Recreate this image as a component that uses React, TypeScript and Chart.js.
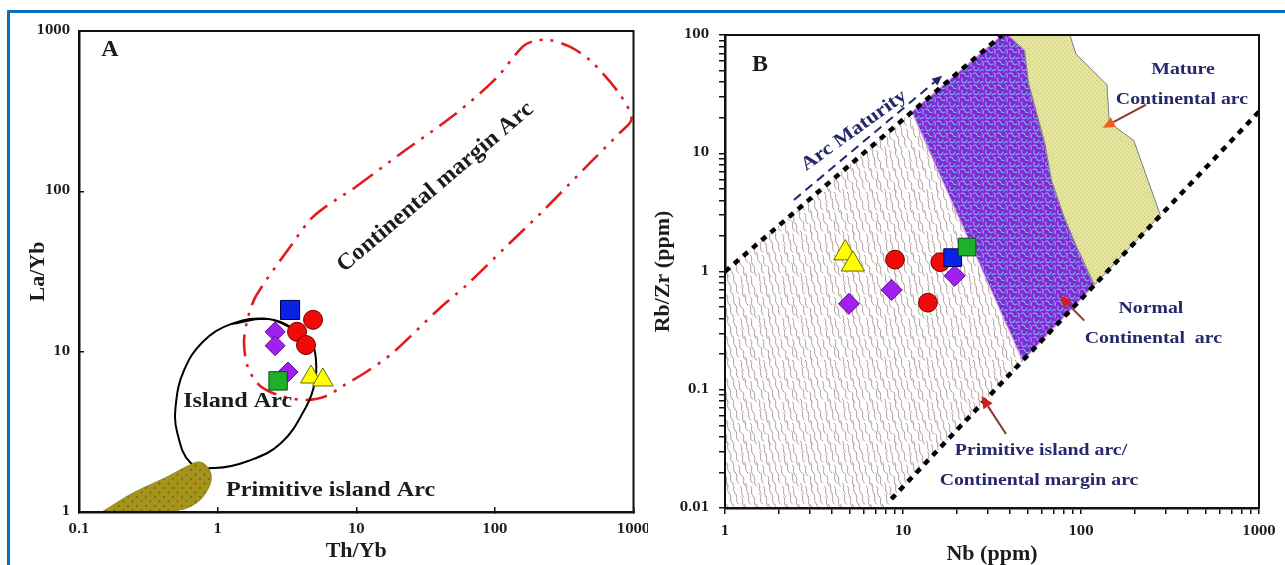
import React, { useEffect, useRef } from "react";
import { Chart, registerables } from "chart.js";
Chart.register(...registerables);

type P = { x: number; y: number };

// ---------------- Panel A : La/Yb vs Th/Yb ----------------
const A_X_TICKS = [0.1, 1, 10, 100, 1000];
const A_Y_TICKS = [1, 10, 100, 1000];

const A_BLUE_SQUARE: P[] = [{ x: 3.33, y: 18.2 }];
const A_RED_CIRCLE: P[] = [{ x: 4.88, y: 15.8 }, { x: 3.74, y: 13.3 }, { x: 4.34, y: 11.0 }];
const A_PURPLE_DIAMOND: P[] = [{ x: 2.6, y: 13.3 }, { x: 2.6, y: 10.9 }, { x: 3.22, y: 7.47 }];
const A_GREEN_SQUARE: P[] = [{ x: 2.73, y: 6.57 }];
const A_YELLOW_TRIANGLE: P[] = [{ x: 4.71, y: 6.95 }, { x: 5.74, y: 6.66 }];

// Island arc field (closed, first points repeated to close smoothly)
const A_ISLAND_ARC: P[] = [
  { x: 1.26, y: 14.9 }, { x: 2.33, y: 16.0 }, { x: 3.77, y: 13.4 }, { x: 4.79, y: 11.2 },
  { x: 5.12, y: 8.88 }, { x: 5.04, y: 6.47 }, { x: 4.34, y: 4.52 }, { x: 2.87, y: 2.69 },
  { x: 1.66, y: 2.08 }, { x: 0.96, y: 1.88 }, { x: 0.64, y: 2.02 }, { x: 0.51, y: 3.16 },
  { x: 0.5, y: 4.72 }, { x: 0.57, y: 7.58 }, { x: 0.78, y: 11.5 }, { x: 1.26, y: 14.9 },
  { x: 2.33, y: 16.0 }, { x: 3.77, y: 13.4 },
];

// Continental margin arc field
const A_CONT_MARGIN_ARC: P[] = [
  { x: 9.84, y: 106 }, { x: 22.3, y: 179 }, { x: 51, y: 300 }, { x: 101, y: 503 },
  { x: 158, y: 796 }, { x: 188, y: 862 }, { x: 245, y: 880 }, { x: 347, y: 798 },
  { x: 491, y: 651 }, { x: 793, y: 405 }, { x: 968, y: 283 }, { x: 793, y: 231 },
  { x: 491, y: 152 }, { x: 215, y: 73.3 }, { x: 124, y: 46.3 }, { x: 62.7, y: 26.1 },
  { x: 38.8, y: 18.2 }, { x: 18.3, y: 9.82 }, { x: 12.1, y: 7.58 }, { x: 8.0, y: 6.11 },
  { x: 6.09, y: 5.29 }, { x: 4.34, y: 5.0 }, { x: 2.87, y: 5.29 }, { x: 2.03, y: 6.11 },
  { x: 1.66, y: 7.91 }, { x: 1.55, y: 11.5 }, { x: 1.66, y: 16.5 }, { x: 1.9, y: 22.4 },
  { x: 3.27, y: 44.0 }, { x: 4.95, y: 70.2 }, { x: 9.84, y: 106 },
];

// Primitive island arc field
const A_PRIMITIVE_ARC: P[] = [
  { x: 0.149, y: 1.01 }, { x: 0.244, y: 1.31 }, { x: 0.428, y: 1.65 }, { x: 0.627, y: 1.96 },
  { x: 0.739, y: 2.05 }, { x: 0.843, y: 1.91 }, { x: 0.9, y: 1.65 }, { x: 0.843, y: 1.37 },
  { x: 0.703, y: 1.14 }, { x: 0.531, y: 1.03 }, { x: 0.324, y: 1.0 }, { x: 0.188, y: 1.0 },
  { x: 0.149, y: 1.01 },
];

const A_LABELS = ["A", "Continental margin Arc", "Island Arc", "Primitive island Arc"];
const A_LABEL_AT: P[] = [{ x: 0.167, y: 762 }, { x: 37.2, y: 106 }, { x: 1.395, y: 4.86 }, { x: 6.53, y: 1.356 }];

// ---------------- Panel B : Rb/Zr vs Nb ----------------
const B_X_TICKS = [1, 2, 3, 4, 5, 6, 7, 8, 9, 10, 20, 30, 40, 50, 60, 70, 80, 90, 100, 200, 300, 400, 500, 600, 700, 800, 900, 1000];
const B_Y_TICKS = [0.01, 0.02, 0.03, 0.04, 0.05, 0.06, 0.07, 0.08, 0.09, 0.1, 0.2, 0.3, 0.4, 0.5, 0.6, 0.7, 0.8, 0.9, 1, 2, 3, 4, 5, 6, 7, 8, 9, 10, 20, 30, 40, 50, 60, 70, 80, 90, 100];
const B_LABELED = [0.01, 0.1, 1, 10, 100, 1000];

const B_YELLOW_TRIANGLE: P[] = [{ x: 4.74, y: 1.43 }, { x: 5.23, y: 1.15 }];
const B_RED_CIRCLE: P[] = [{ x: 9.02, y: 1.26 }, { x: 16.2, y: 1.2 }, { x: 13.8, y: 0.545 }];
const B_BLUE_SQUARE: P[] = [{ x: 19.0, y: 1.31 }];
const B_GREEN_SQUARE: P[] = [{ x: 22.9, y: 1.61 }];
const B_PURPLE_DIAMOND: P[] = [{ x: 4.97, y: 0.533 }, { x: 8.64, y: 0.698 }, { x: 19.5, y: 0.92 }];

const B_UPPER_LIMIT: P[] = [{ x: 1, y: 1 }, { x: 36, y: 100 }];
const B_LOWER_LIMIT: P[] = [{ x: 8.6, y: 0.0119 }, { x: 1000, y: 22.5 }];
const B_PRIMITIVE_FIELD: P[] = [
  { x: 1, y: 0.01 }, { x: 1, y: 1 }, { x: 11.2, y: 22.4 }, { x: 47, y: 0.175 },
  { x: 8.6, y: 0.0119 }, { x: 8.4, y: 0.01 }, { x: 1, y: 0.01 },
];
const B_NORMAL_FIELD: P[] = [
  { x: 11.2, y: 22.4 }, { x: 36, y: 100 }, { x: 38.9, y: 100 }, { x: 48.2, y: 74 },
  { x: 50.8, y: 39 }, { x: 62.8, y: 12 }, { x: 68.2, y: 5.94 }, { x: 80, y: 2.94 },
  { x: 93.7, y: 1.67 }, { x: 119, y: 0.77 }, { x: 47, y: 0.175 }, { x: 11.2, y: 22.4 },
];
const B_MATURE_FIELD: P[] = [
  { x: 38.9, y: 100 }, { x: 86.6, y: 100 }, { x: 93.7, y: 69 }, { x: 140, y: 38 },
  { x: 144, y: 18.2 }, { x: 198, y: 12.8 }, { x: 279, y: 3.0 }, { x: 119, y: 0.77 },
  { x: 93.7, y: 1.67 }, { x: 80, y: 2.94 }, { x: 68.2, y: 5.94 }, { x: 62.8, y: 12 },
  { x: 50.8, y: 39 }, { x: 48.2, y: 74 }, { x: 38.9, y: 100 },
];

const B_LABELS = ["B", "Arc Maturity", "Mature", "Continental arc", "Normal", "Continental  arc", "Primitive island arc/", "Continental margin arc"];
const B_LABEL_AT: P[] = [
  { x: 1.573, y: 55.7 }, { x: 5.3, y: 15.5 }, { x: 374, y: 50.6 }, { x: 369, y: 28.2 },
  { x: 247, y: 0.482 }, { x: 255, y: 0.27 }, { x: 59.6, y: 0.0306 }, { x: 58.1, y: 0.0169 },
];
const B_ARROW_FROM: P[] = [{ x: 2.44, y: 4.03 }, { x: 232, y: 25.8 }, { x: 104.3, y: 0.384 }, { x: 37.9, y: 0.0423 }];
const B_ARROW_TO: P[] = [{ x: 16.6, y: 45.3 }, { x: 132.6, y: 16.4 }, { x: 75.8, y: 0.627 }, { x: 27.6, y: 0.088 }];

// ---------------- styling helpers ----------------
const SERIF = '"Liberation Serif", "Times New Roman", serif';
const TICK_FONT = '"DejaVu Serif", serif';
const NAVY = "#27276b";
const TEXT = "#1c1c1c";

type NoteStyle = { size: number; color: string; rot?: number; sx?: number };
type ArrowStyle = { color: string; head: string; width: number; dash?: number[]; hl: number; hw: number };

function tile(w: number, h: number, paint: (g: CanvasRenderingContext2D) => void) {
  const c = document.createElement("canvas");
  c.width = w;
  c.height = h;
  paint(c.getContext("2d") as CanvasRenderingContext2D);
  return c;
}

function overlayPlugin(labels: string[], at: P[], styles: NoteStyle[], from: P[], to: P[], arrowStyles: ArrowStyle[]) {
  return {
    id: "overlay",
    afterDatasetsDraw(chart: any) {
      const { ctx, scales } = chart;
      const sx = scales.x, sy = scales.y;
      for (let i = 0; i < from.length; i++) {
        const st = arrowStyles[i];
        const x1 = sx.getPixelForValue(from[i].x), y1 = sy.getPixelForValue(from[i].y);
        const x2 = sx.getPixelForValue(to[i].x), y2 = sy.getPixelForValue(to[i].y);
        const a = Math.atan2(y2 - y1, x2 - x1);
        const bx = x2 - st.hl * Math.cos(a), by = y2 - st.hl * Math.sin(a);
        ctx.save();
        ctx.strokeStyle = st.color;
        ctx.lineWidth = st.width;
        ctx.setLineDash(st.dash || []);
        ctx.beginPath();
        ctx.moveTo(x1, y1);
        ctx.lineTo(bx, by);
        ctx.stroke();
        ctx.setLineDash([]);
        ctx.fillStyle = st.head;
        ctx.beginPath();
        ctx.moveTo(x2, y2);
        ctx.lineTo(bx + (st.hw / 2) * Math.sin(a), by - (st.hw / 2) * Math.cos(a));
        ctx.lineTo(bx - (st.hw / 2) * Math.sin(a), by + (st.hw / 2) * Math.cos(a));
        ctx.closePath();
        ctx.fill();
        ctx.restore();
      }
      for (let i = 0; i < labels.length; i++) {
        const st = styles[i];
        const px = sx.getPixelForValue(at[i].x), py = sy.getPixelForValue(at[i].y);
        ctx.save();
        ctx.translate(px, py);
        ctx.rotate(((st.rot || 0) * Math.PI) / 180);
        ctx.scale(st.sx || 1, 1);
        ctx.font = `bold ${st.size}px ${SERIF}`;
        ctx.fillStyle = st.color;
        ctx.textAlign = "center";
        ctx.textBaseline = "middle";
        ctx.fillText(labels[i], 0, 0);
        ctx.restore();
      }
    },
    afterDraw(chart: any) {
      const { ctx, chartArea: c } = chart;
      ctx.save();
      ctx.strokeStyle = "#111";
      ctx.lineWidth = 2;
      ctx.strokeRect(c.left, c.top, c.right - c.left, c.bottom - c.top);
      ctx.restore();
    },
  };
}

function marker(data: P[], style: string, r: number, fill: string, border: string, order: number) {
  return {
    type: "line",
    data,
    showLine: false,
    pointStyle: style,
    pointRadius: r,
    pointBackgroundColor: fill,
    pointBorderColor: border,
    pointBorderWidth: 1,
    order,
  };
}

function logAxis(opts: any) {
  return {
    type: "logarithmic",
    min: opts.min,
    max: opts.max,
    position: opts.position,
    afterBuildTicks: (s: any) => {
      s.ticks = opts.ticks.map((v: number) => ({ value: v }));
    },
    afterFit: (s: any) => {
      if (opts.position === "bottom") s.height = opts.size;
      else s.width = opts.size;
      s.paddingLeft = 0;
      s.paddingRight = 0;
      s.paddingTop = 0;
      s.paddingBottom = 0;
    },
    ticks: {
      autoSkip: false,
      maxRotation: 0,
      padding: opts.tickPad,
      color: TEXT,
      font: { family: TICK_FONT, size: 12, weight: "bold" },
      callback: (v: number) => (B_LABELED.some((l) => Math.abs(l - v) / l < 1e-6) ? String(v) : ""),
    },
    grid: { drawOnChartArea: false, drawTicks: true, tickLength: opts.tickLength, color: "#111", lineWidth: 1.5 },
    border: { color: "#111", width: 2.5 },
    title: {
      display: true,
      text: opts.title,
      color: TEXT,
      font: { family: SERIF, size: 22, weight: "bold", lineHeight: 1 },
      padding: opts.titlePad,
    },
  };
}

export default function App() {
  const refA = useRef<HTMLCanvasElement>(null);
  const refB = useRef<HTMLCanvasElement>(null);

  useEffect(() => {
    const ctxA = (refA.current as HTMLCanvasElement).getContext("2d") as CanvasRenderingContext2D;
    const ctxB = (refB.current as HTMLCanvasElement).getContext("2d") as CanvasRenderingContext2D;

    const olive = ctxA.createPattern(
      tile(9, 9, (g) => {
        g.fillStyle = "rgb(166,148,26)";
        g.fillRect(0, 0, 9, 9);
        g.fillStyle = "rgb(95,100,35)";
        g.beginPath(); g.arc(2, 2, 0.9, 0, Math.PI * 2); g.fill();
        g.beginPath(); g.arc(6.5, 6.5, 0.9, 0, Math.PI * 2); g.fill();
      }),
      "repeat"
    );
    const wavy = ctxB.createPattern(
      tile(42, 42, (g) => {
        g.fillStyle = "#fff";
        g.fillRect(0, 0, 42, 42);
        g.strokeStyle = "rgba(168,145,145,0.9)";
        g.lineWidth = 1;
        for (let r = 0; r < 4; r++)
          for (let c = 0; c < 7; c++) {
            const sx = c * 6 + (r % 2) * 3 + ((r * c) % 3);
            const sy = r * 10.5 + (c % 2) * 3;
            for (const ox of [-42, 0, 42])
              for (const oy of [-42, 0, 42]) {
                g.beginPath();
                g.moveTo(sx + ox, sy + oy);
                g.bezierCurveTo(sx + ox + 4, sy + oy + 3, sx + ox - 1, sy + oy + 7, sx + ox + 4, sy + oy + 11);
                g.stroke();
              }
          }
      }),
      "repeat"
    );
    const purple = ctxB.createPattern(
      tile(12, 12, (g) => {
        g.fillStyle = "rgb(132,40,212)";
        g.fillRect(0, 0, 12, 12);
        g.strokeStyle = "rgb(125,178,240)";
        g.lineWidth = 1.1;
        g.lineCap = "round";
        g.beginPath(); g.moveTo(1, 1.5); g.quadraticCurveTo(4, 0, 5, 3); g.quadraticCurveTo(6, 5.5, 9, 4); g.stroke();
        g.beginPath(); g.moveTo(10, 1); g.quadraticCurveTo(12, 3, 11, 6); g.stroke();
        g.beginPath(); g.moveTo(2, 6); g.quadraticCurveTo(1, 9, 3, 10.5); g.quadraticCurveTo(6, 11, 7, 8); g.stroke();
        g.beginPath(); g.moveTo(8, 11); g.quadraticCurveTo(10, 9, 12, 10); g.stroke();
      }),
      "repeat"
    );
    const khaki = ctxB.createPattern(
      tile(4, 4, (g) => {
        g.fillStyle = "rgb(229,229,160)";
        g.fillRect(0, 0, 4, 4);
        g.fillStyle = "rgb(196,196,122)";
        g.fillRect(0, 0, 1, 1);
        g.fillRect(2, 2, 1, 1);
      }),
      "repeat"
    );

    const chartA = new Chart(ctxA, {
      type: "line",
      data: {
        datasets: [
          marker(A_YELLOW_TRIANGLE, "triangle", 12, "#ffff00", "#6b6b00", 0),
          marker(A_GREEN_SQUARE, "rect", 13, "#1fb02a", "#0c4a10", 1),
          marker(A_PURPLE_DIAMOND, "rectRot", 10, "#a020f0", "#5a0a8a", 2),
          marker(A_RED_CIRCLE, "circle", 9.5, "#f00a0a", "#6a0000", 3),
          marker(A_BLUE_SQUARE, "rect", 13.5, "#0a22e6", "#00004a", 4),
          {
            type: "line", data: A_PRIMITIVE_ARC, showLine: true, pointRadius: 0, tension: 0.4,
            borderColor: "rgb(130,145,40)", borderWidth: 1, backgroundColor: olive, fill: "shape", order: 6,
          },
          {
            type: "line", data: A_ISLAND_ARC, showLine: true, pointRadius: 0, tension: 0.4,
            borderColor: "#000", borderWidth: 2, fill: false, order: 7,
          },
          {
            type: "line", data: A_CONT_MARGIN_ARC, showLine: true, pointRadius: 0, tension: 0.3,
            borderColor: "rgb(226,28,28)", borderWidth: 2.6, borderDash: [22, 8, 3, 8, 3, 8], fill: false, order: 8,
          },
        ],
      } as any,
      options: {
        responsive: false,
        animation: false,
        devicePixelRatio: 1,
        events: [],
        layout: { padding: { left: 0, top: 31, right: 12, bottom: 0 } },
        plugins: { legend: { display: false }, tooltip: { enabled: false } },
        scales: {
          x: logAxis({ min: 0.1, max: 1000, position: "bottom", ticks: A_X_TICKS, size: 53, tickPad: 16, tickLength: -5, title: "Th/Yb", titlePad: { top: 0, bottom: 3 } }),
          y: logAxis({ min: 1, max: 1000, position: "left", ticks: A_Y_TICKS, size: 79, tickPad: 14, tickLength: -5, title: "La/Yb", titlePad: { top: 27, bottom: 0 } }),
        },
      } as any,
      plugins: [
        overlayPlugin(
          A_LABELS,
          A_LABEL_AT,
          [
            { size: 24, color: TEXT },
            { size: 23, color: TEXT, rot: -40.4, sx: 1.06 },
            { size: 21, color: TEXT, sx: 1.15 },
            { size: 22, color: TEXT, sx: 1.1 },
          ],
          [],
          [],
          []
        ),
      ],
    });

    const brown = { color: "rgb(140,55,45)", width: 2, hl: 12, hw: 11 };
    const chartB = new Chart(ctxB, {
      type: "line",
      data: {
        datasets: [
          marker(B_YELLOW_TRIANGLE, "triangle", 13.5, "#ffff00", "#6b6b00", 0),
          marker(B_GREEN_SQUARE, "rect", 12.5, "#1fb02a", "#0c4a10", 1),
          marker(B_BLUE_SQUARE, "rect", 12.5, "#0a22e6", "#00004a", 2),
          marker(B_PURPLE_DIAMOND, "rectRot", 10.5, "#a020f0", "#5a0a8a", 3),
          marker(B_RED_CIRCLE, "circle", 9.4, "#f00a0a", "#6a0000", 4),
          {
            type: "line", data: B_UPPER_LIMIT, showLine: true, pointRadius: 0,
            borderColor: "#000", borderWidth: 4.5, borderDash: [6, 6], fill: false, order: 5,
          },
          {
            type: "line", data: B_LOWER_LIMIT, showLine: true, pointRadius: 0,
            borderColor: "#000", borderWidth: 4.5, borderDash: [6, 6], fill: false, order: 5,
          },
          {
            type: "line", data: B_MATURE_FIELD, showLine: true, pointRadius: 0,
            borderColor: "rgb(120,128,128)", borderWidth: 1, backgroundColor: khaki, fill: "shape", order: 7,
          },
          {
            type: "line", data: B_NORMAL_FIELD, showLine: true, pointRadius: 0,
            borderColor: "rgba(225,160,225,0.9)", borderWidth: 1.2, backgroundColor: purple, fill: "shape", order: 8,
          },
          {
            type: "line", data: B_PRIMITIVE_FIELD, showLine: true, pointRadius: 0,
            borderWidth: 0, borderColor: "rgba(0,0,0,0)", backgroundColor: wavy, fill: "shape", order: 9,
          },
        ],
      } as any,
      options: {
        responsive: false,
        animation: false,
        devicePixelRatio: 1,
        events: [],
        layout: { padding: { left: 0, top: 35, right: 26, bottom: 0 } },
        plugins: { legend: { display: false }, tooltip: { enabled: false } },
        scales: {
          x: logAxis({ min: 1, max: 1000, position: "bottom", ticks: B_X_TICKS, size: 57, tickPad: 11, tickLength: 6, title: "Nb (ppm)", titlePad: { top: 0, bottom: 0 } }),
          y: logAxis({ min: 0.01, max: 100, position: "left", ticks: B_Y_TICKS, size: 77, tickPad: 10, tickLength: 6, title: "Rb/Zr (ppm)", titlePad: { top: 4, bottom: 0 } }),
        },
      } as any,
      plugins: [
        overlayPlugin(
          B_LABELS,
          B_LABEL_AT,
          [
            { size: 24, color: TEXT },
            { size: 19, color: NAVY, rot: -35.7, sx: 1.15 },
            { size: 16.5, color: NAVY, sx: 1.2 },
            { size: 16.5, color: NAVY, sx: 1.2 },
            { size: 16.5, color: NAVY, sx: 1.2 },
            { size: 16.5, color: NAVY, sx: 1.2 },
            { size: 16.5, color: NAVY, sx: 1.2 },
            { size: 16.5, color: NAVY, sx: 1.2 },
          ],
          B_ARROW_FROM,
          B_ARROW_TO,
          [
            { color: "rgb(30,40,110)", head: "rgb(30,40,110)", width: 2, dash: [9, 6], hl: 10, hw: 9 },
            { ...brown, head: "rgb(235,95,35)" },
            { ...brown, head: "rgb(210,30,30)" },
            { ...brown, head: "rgb(210,30,30)" },
          ]
        ),
      ],
    });

    return () => {
      chartA.destroy();
      chartB.destroy();
    };
  }, []);

  return (
    <div style={{ position: "absolute", left: 0, top: 0, width: 1285, height: 565, background: "#fff", overflow: "hidden" }}>
      <canvas ref={refA} width={648} height={565} style={{ position: "absolute", left: 0, top: 0, width: 648, height: 565 }} />
      <canvas ref={refB} width={637} height={565} style={{ position: "absolute", left: 648, top: 0, width: 637, height: 565 }} />
      <div
        style={{
          position: "absolute",
          left: 7,
          top: 10,
          width: 1290,
          height: 570,
          borderLeft: "3px solid #0b6fc0",
          borderTop: "3px solid #0b6fc0",
          pointerEvents: "none",
        }}
      />
    </div>
  );
}
